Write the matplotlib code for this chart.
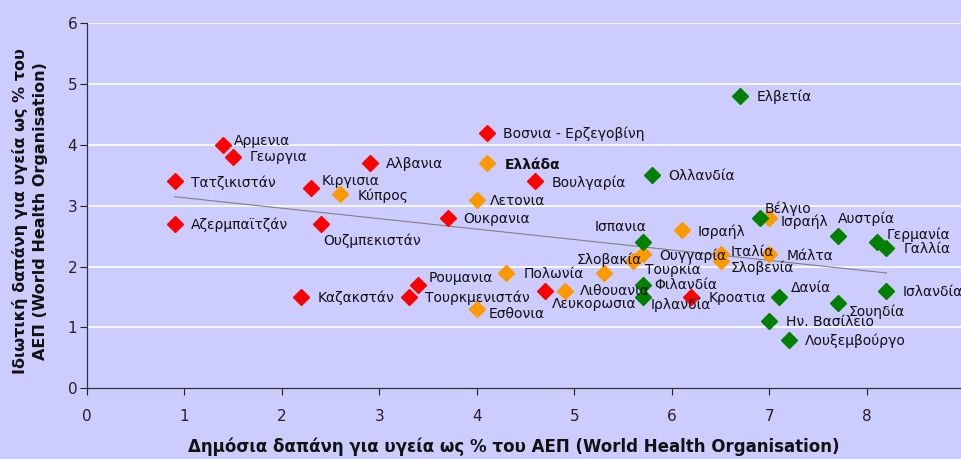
import numpy as np
import matplotlib
matplotlib.use("Agg")
import matplotlib.pyplot as plt

# data (public, private health spending % GDP)
red_names = ["Αρμενια", "Γεωργια", "Τατζικιστάν", "Αζερμπαϊτζάν", "Κιργισια",
             "Ουζμπεκιστάν", "Αλβανια", "Βοσνια - Ερζεγοβίνη", "Βουλγαρία",
             "Ουκρανια", "Ρουμανια", "Καζακστάν", "Τουρκμενιστάν",
             "Λευκορωσια", "Κροατια"]
red_x = [1.4, 1.5, 0.9, 0.9, 2.3, 2.4, 2.9, 4.1, 4.6, 3.7, 3.4, 2.2, 3.3, 4.7, 6.2]
red_y = [4.0, 3.8, 3.4, 2.7, 3.3, 2.7, 3.7, 4.2, 3.4, 2.8, 1.7, 1.5, 1.5, 1.6, 1.5]

orange_names = ["Ελλάδα", "Κύπρος", "Λετονια", "Πολωνία", "Εσθονια", "Λιθουανια",
                "Σλοβακία", "Τουρκία", "Ουγγαρία", "Ιταλία", "Σλοβενία", "Μάλτα",
                "Ισραήλ", "Ισραήλ"]
orange_x = [4.1, 2.6, 4.0, 4.3, 4.0, 4.9, 5.3, 5.6, 5.7, 6.5, 6.5, 7.0, 6.1, 7.0]
orange_y = [3.7, 3.2, 3.1, 1.9, 1.3, 1.6, 1.9, 2.1, 2.2, 2.2, 2.1, 2.2, 2.6, 2.8]

green_names = ["Ελβετία", "Ολλανδία", "Ισπανια", "Βέλγιο", "Αυστρία", "Γερμανία",
               "Γαλλία", "Φιλανδία", "Ιρλανδία", "Δανία", "Σουηδία", "Ισλανδία",
               "Ην. Βασίλειο", "Λουξεμβούργο"]
green_x = [6.7, 5.8, 5.7, 6.9, 7.7, 8.1, 8.2, 5.7, 5.7, 7.1, 7.7, 8.2, 7.0, 7.2]
green_y = [4.8, 3.5, 2.4, 2.8, 2.5, 2.4, 2.3, 1.7, 1.5, 1.5, 1.4, 1.6, 1.1, 0.8]

# label offsets in pixels (dx, dy up) from the marker
red_off = [(10, 4), (16, 0), (16, -1), (16, -1), (10, 7), (2, -17), (16, -1),
           (16, -1), (16, -1), (16, -1), (10, 7), (16, -1), (16, -1), (7, -13), (17, -1)]
orange_off = [(18, -2), (17, -2), (13, -1), (17, -1), (12, -5), (15, 0), (-27, 13),
              (12, -9), (17, -1), (10, 2), (10, -7), (17, -2), (16, -2), (11, -4)]
green_off = [(16, 0), (16, -1), (-48, 15), (5, 9), (0, 17), (10, 8), (17, -1),
             (12, 0), (8, -8), (12, 9), (11, -9), (16, -1), (17, -1), (16, -1)]

bg = "#CCCCFF"
fig = plt.figure(figsize=(9.62, 4.59), dpi=100, facecolor=bg)
ax = fig.add_axes([87 / 962, 1 - 388.3 / 459, 877.5 / 962, 365 / 459])
ax.set_facecolor(bg)

for y in range(1, 7):
    ax.axhline(y, color="white", lw=1.2, zorder=0)

all_x = np.array(red_x + orange_x + green_x)
all_y = np.array(red_y + orange_y + green_y)
k, b = np.polyfit(all_x, all_y, 1)
xs = np.array([all_x.min(), all_x.max()])
ax.plot(xs, k * xs + b, color="#808080", lw=0.8, zorder=1)

groups = [(red_names, red_x, red_y, red_off, "#FF0000"),
          (orange_names, orange_x, orange_y, orange_off, "#FF9900"),
          (green_names, green_x, green_y, green_off, "#008000")]
for names, xv, yv, offs, col in groups:
    ax.plot(xv, yv, "D", color=col, ms=8.5, mec=col, ls="none", zorder=3)
    for n, x, y, o in zip(names, xv, yv, offs):
        ax.annotate(n, (x, y), xytext=o, textcoords="offset pixels",
                    ha="left", va="center", fontsize=10, color="#111111",
                    fontweight="bold" if n == "Ελλάδα" else "normal", zorder=4)

ax.set_xlim(0, 9)
ax.set_ylim(0, 6)
ax.set_xticks(range(0, 10))
ax.set_yticks(range(0, 7))
ax.tick_params(labelsize=11, length=5, width=0.8, colors="#222222", direction="out")
ax.tick_params(axis="x", pad=10)
ax.tick_params(axis="y", pad=2)
for s in ["top", "right"]:
    ax.spines[s].set_visible(False)
for s in ["left", "bottom"]:
    ax.spines[s].set_color("#333333")
    ax.spines[s].set_linewidth(0.9)

ax.set_xlabel("Δημόσια δαπάνη για υγεία ως % του ΑΕΠ (World Health Organisation)",
              fontsize=12, fontweight="bold", va="center", color="#111111")
ax.xaxis.set_label_coords((514 - 87) / 877.5, -(447 - 388.3) / 365)
ax.set_ylabel("Ιδιωτική δαπάνη για υγεία ως % του\nΑΕΠ (World Health Organisation)",
              fontsize=11.5, fontweight="bold", linespacing=1.4, va="center",
              color="#111111")
ax.yaxis.set_label_coords(-(87 - 30) / 877.5, (388.3 - 211) / 365)

fig.savefig("out.png", dpi=100, facecolor=bg)
